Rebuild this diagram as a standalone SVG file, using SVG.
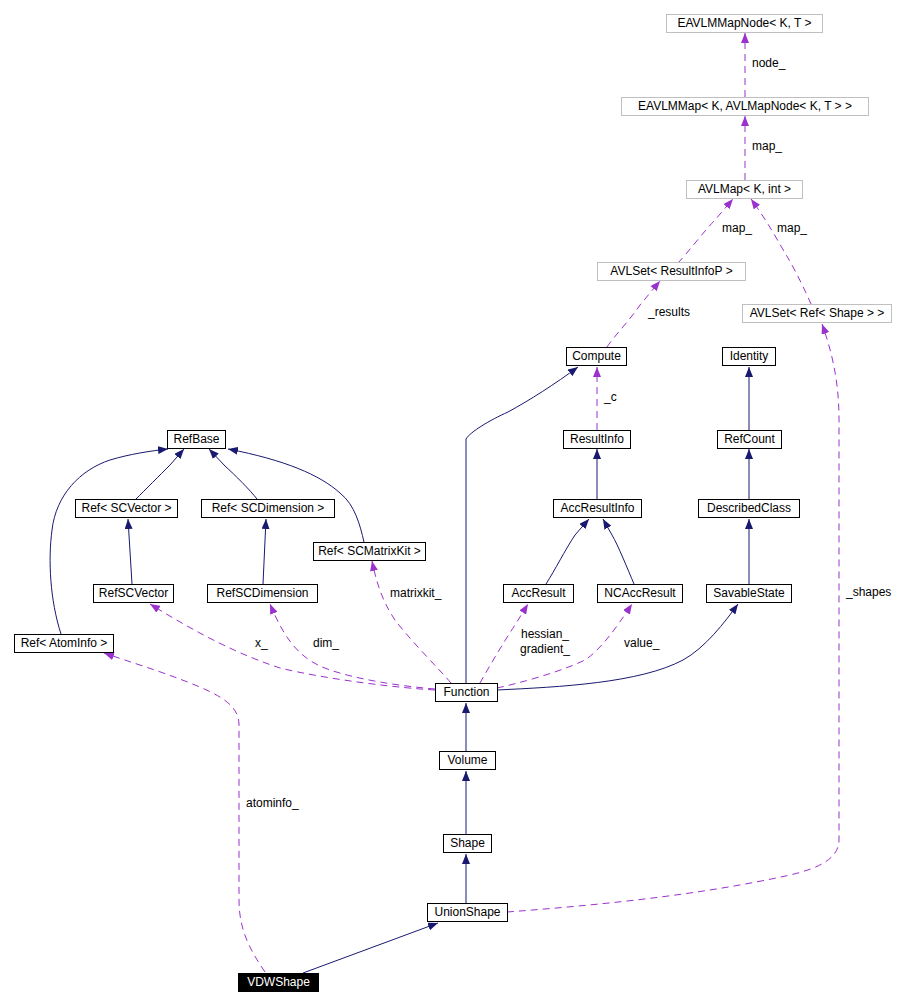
<svg xmlns="http://www.w3.org/2000/svg" width="914" height="1006" viewBox="0 0 914 1006">
<style>
.n rect{fill:#fff;stroke:#000;stroke-width:1}
.g rect{stroke:#bfbfbf}
.n text{font-family:"Liberation Sans",Arial,sans-serif;font-size:12px;fill:#000;text-anchor:middle}
.inv rect{fill:#000}
.inv text{fill:#fff}
.e{fill:none;stroke-width:1}
.s{stroke:#191970}
.d{stroke:#9a32cd;stroke-dasharray:7,5}
.lb{font-family:"Liberation Sans",Arial,sans-serif;font-size:12px;fill:#000}
</style>
<defs>
<marker id="an" markerWidth="10" markerHeight="8" refX="10" refY="4" orient="auto" markerUnits="userSpaceOnUse"><path d="M0,0 L10,4 L0,8 z" fill="#191970"/></marker>
<marker id="ap" markerWidth="10" markerHeight="8" refX="10" refY="4" orient="auto" markerUnits="userSpaceOnUse"><path d="M0,0 L10,4 L0,8 z" fill="#9a32cd"/></marker>
</defs>
<rect width="914" height="1006" fill="#fff"/>
<g id="edges">
<g class="e s" marker-end="url(#an)">
<path d="M466,683 L466,439 C470,432 490,420 508,412 C530,400 555,384 578,367"/>
<path d="M597,499 L597,449"/>
<path d="M546,584 C555,570 565,550 575,535 L589,519"/>
<path d="M634,584 C628,570 618,545 612,535 L603,519"/>
<path d="M749,499 L749,449"/>
<path d="M749,430 L749,367"/>
<path d="M749,584 L749,519"/>
<path d="M497,690 C560,687 640,683 683,660 C705,648 725,622 738,604"/>
<path d="M136,499 C145,490 160,475 170,465 L184,449"/>
<path d="M257,499 C250,490 235,475 225,466 L209,449"/>
<path d="M364,542 C360,525 355,505 340,493 C320,475 285,460 228,449"/>
<path d="M61,634 C50,600 48,560 52,530 C56,495 80,470 110,460 C130,454 150,451 168,449"/>
<path d="M132,584 L128,519"/>
<path d="M263,584 L266,519"/>
<path d="M466,751 L466,703"/>
<path d="M466,834 L466,771"/>
<path d="M466,903 L466,854"/>
<path d="M303,973 L438,923"/>
</g>
<g class="e d" marker-end="url(#ap)">
<path d="M745,97 L745,33"/>
<path d="M745,180 L745,116"/>
<path d="M678,263 C690,250 705,230 715,220 L733,199"/>
<path d="M811,304 C805,290 795,270 788,258 C780,245 770,225 751,199"/>
<path d="M607,347 C615,335 630,320 640,305 L660,281"/>
<path d="M597,430 L597,367"/>
<path d="M507,912 C600,905 700,895 790,875 C820,868 839,858 839,840 L839,420 C839,390 835,360 822,324"/>
<path d="M451,683 C440,670 410,640 395,620 C385,605 378,590 372,561"/>
<path d="M435,690 C400,688 330,680 280,668 C240,655 200,635 150,604"/>
<path d="M435,689 C400,686 360,680 330,670 C300,660 285,640 270,604"/>
<path d="M480,683 C490,665 505,640 515,625 L528,604"/>
<path d="M497,688 C520,683 560,672 585,660 C600,650 615,630 632,604"/>
<path d="M265,972 C250,950 239,930 239,900 L239,725 C239,705 220,695 190,683 C160,671 130,662 104,653"/>
</g>
<text class="lb" x="752" y="67">node_</text>
<text class="lb" x="752" y="150">map_</text>
<text class="lb" x="722" y="232">map_</text>
<text class="lb" x="777" y="232">map_</text>
<text class="lb" x="648" y="316">_results</text>
<text class="lb" x="604" y="401">_c</text>
<text class="lb" x="846" y="596">_shapes</text>
<text class="lb" x="390" y="597">matrixkit_</text>
<text class="lb" x="255" y="647">x_</text>
<text class="lb" x="313" y="647">dim_</text>
<text class="lb" x="521" y="638">hessian_</text>
<text class="lb" x="520" y="653">gradient_</text>
<text class="lb" x="624" y="647">value_</text>
<text class="lb" x="246" y="807">atominfo_</text>
</g>
<g id="EAVLMMapNode" class="n g"><rect x="666.5" y="14.5" width="156" height="18"/><text x="744.5" y="27">EAVLMMapNode&lt; K, T &gt;</text></g>
<g id="EAVLMMap" class="n g"><rect x="621.5" y="97.5" width="247" height="18"/><text x="745" y="110">EAVLMMap&lt; K, AVLMapNode&lt; K, T &gt; &gt;</text></g>
<g id="AVLMap" class="n g"><rect x="686.5" y="180.5" width="116" height="18"/><text x="744.5" y="193">AVLMap&lt; K, int &gt;</text></g>
<g id="AVLSetResultInfoP" class="n g"><rect x="597.5" y="262.5" width="148" height="18"/><text x="671.5" y="275">AVLSet&lt; ResultInfoP &gt;</text></g>
<g id="AVLSetRefShape" class="n g"><rect x="742.5" y="304.5" width="149" height="18"/><text x="817" y="317">AVLSet&lt; Ref&lt; Shape &gt; &gt;</text></g>
<g id="Compute" class="n"><rect x="566.5" y="347.5" width="60" height="18"/><text x="596.5" y="360">Compute</text></g>
<g id="Identity" class="n"><rect x="722.5" y="347.5" width="53" height="18"/><text x="749" y="360">Identity</text></g>
<g id="RefBase" class="n"><rect x="167.5" y="430.5" width="58" height="18"/><text x="196.5" y="443">RefBase</text></g>
<g id="ResultInfo" class="n"><rect x="563.5" y="430.5" width="67" height="18"/><text x="597" y="443">ResultInfo</text></g>
<g id="RefCount" class="n"><rect x="717.5" y="430.5" width="64" height="18"/><text x="749.5" y="443">RefCount</text></g>
<g id="RefSCVectorT" class="n"><rect x="75.5" y="499.5" width="102" height="18"/><text x="126.5" y="512">Ref&lt; SCVector &gt;</text></g>
<g id="RefSCDimensionT" class="n"><rect x="201.5" y="499.5" width="133" height="18"/><text x="268" y="512">Ref&lt; SCDimension &gt;</text></g>
<g id="AccResultInfo" class="n"><rect x="553.5" y="499.5" width="88" height="18"/><text x="597.5" y="512">AccResultInfo</text></g>
<g id="DescribedClass" class="n"><rect x="698.5" y="499.5" width="101" height="18"/><text x="749" y="512">DescribedClass</text></g>
<g id="RefSCMatrixKit" class="n"><rect x="313.5" y="542.5" width="112" height="18"/><text x="369.5" y="555">Ref&lt; SCMatrixKit &gt;</text></g>
<g id="RefSCVector" class="n"><rect x="93.5" y="584.5" width="80" height="18"/><text x="133.5" y="597">RefSCVector</text></g>
<g id="RefSCDimension" class="n"><rect x="207.5" y="584.5" width="110" height="18"/><text x="262.5" y="597">RefSCDimension</text></g>
<g id="AccResult" class="n"><rect x="503.5" y="584.5" width="70" height="18"/><text x="538.5" y="597">AccResult</text></g>
<g id="NCAccResult" class="n"><rect x="597.5" y="584.5" width="85" height="18"/><text x="640" y="597">NCAccResult</text></g>
<g id="SavableState" class="n"><rect x="706.5" y="584.5" width="85" height="18"/><text x="749" y="597">SavableState</text></g>
<g id="RefAtomInfo" class="n"><rect x="14.5" y="634.5" width="99" height="18"/><text x="64" y="647">Ref&lt; AtomInfo &gt;</text></g>
<g id="Function" class="n"><rect x="435.5" y="683.5" width="62" height="18"/><text x="466.5" y="696">Function</text></g>
<g id="Volume" class="n"><rect x="439.5" y="751.5" width="56" height="18"/><text x="467.5" y="764">Volume</text></g>
<g id="Shape" class="n"><rect x="443.5" y="834.5" width="48" height="18"/><text x="467.5" y="847">Shape</text></g>
<g id="UnionShape" class="n"><rect x="427.5" y="903.5" width="80" height="18"/><text x="467.5" y="916">UnionShape</text></g>
<g id="VDWShape" class="n inv"><rect x="238.5" y="973.5" width="80" height="18"/><text x="278.5" y="986">VDWShape</text></g>
</svg>
